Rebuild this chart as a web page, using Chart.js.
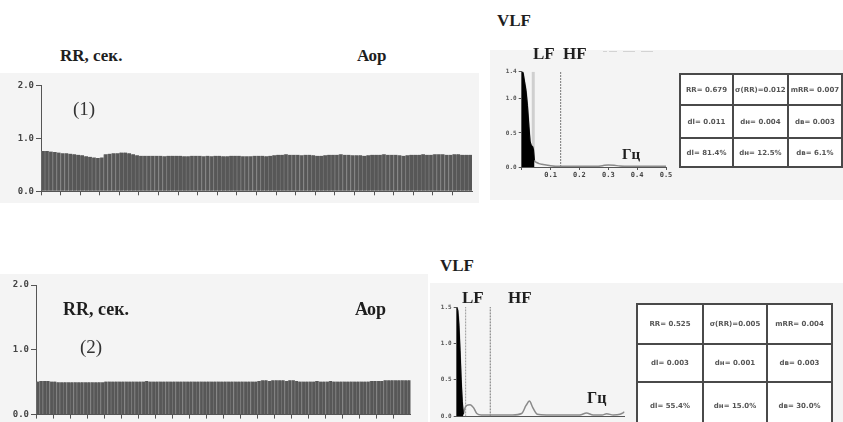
<!DOCTYPE html>
<html>
<head>
<meta charset="utf-8">
<script src="https://cdn.jsdelivr.net/npm/chart.js@4.4.1/dist/chart.umd.min.js"></script>
<style>
body { margin:0; width:843px; height:422px; overflow:hidden; background:#fff; position:relative; font-family:"Liberation Serif", serif; }
.panel { position:absolute; background:#f4f4f4; }
canvas { position:absolute; }
.t { position:absolute; font-weight:bold; font-size:17px; line-height:1; color:#1e1e1e; white-space:nowrap; }
.n { position:absolute; font-size:19px; line-height:1; color:#333; white-space:nowrap; }
.dash { position:absolute; font-size:8px; color:#aaa; white-space:pre; }
table { position:absolute; border-collapse:collapse; table-layout:fixed; background:#fff; }
td { border:2px solid #4a4a4a; text-align:center; font:bold 7px "DejaVu Sans", sans-serif; color:#555; padding:0; white-space:nowrap; overflow:hidden; }
</style>
</head>
<body>
<div class="panel" style="left:0;top:73px;width:479px;height:130px"></div>
<div class="panel" style="left:490px;top:50px;width:353px;height:150px"></div>
<div class="panel" style="left:0;top:274px;width:428px;height:148px"></div>
<div class="panel" style="left:430px;top:283px;width:413px;height:139px"></div>

<canvas id="rr1" width="480" height="133" style="left:0;top:70px"></canvas>
<canvas id="spec1" width="190" height="150" style="left:490px;top:50px"></canvas>
<canvas id="rr2" width="428" height="150" style="left:0;top:272px"></canvas>
<canvas id="spec2" width="206" height="139" style="left:430px;top:283px"></canvas>

<div class="t" style="left:60px;top:47px">RR, сек.</div>
<div class="t" style="left:357px;top:47px">Аор</div>
<div class="n" style="left:73px;top:99px">(1)</div>
<div class="t" style="left:497px;top:12px">VLF</div>
<div class="t" style="left:533px;top:45px">LF</div>
<div class="t" style="left:563px;top:45px">HF</div>
<div class="dash" style="left:603px;top:46px">– ––   –––   –––</div>
<div class="t" style="left:622px;top:147px;font-size:15px">Гц</div>

<div class="t" style="left:440px;top:257px">VLF</div>
<div class="t" style="left:462px;top:289px">LF</div>
<div class="t" style="left:508px;top:289px">HF</div>
<div class="t" style="left:63px;top:300px;font-size:18px">RR, сек.</div>
<div class="t" style="left:355px;top:300px;font-size:18px">Аор</div>
<div class="n" style="left:80px;top:337px">(2)</div>
<div class="t" style="left:587px;top:390px;font-size:16px">Гц</div>

<table id="tab1" style="left:679px;top:73px"></table>
<table id="tab2" style="left:636px;top:303px"></table>

<script>
const barLabels = Array.from({length: 110}, (_, i) => i + 1);

const rr1 = [0.76,0.76,0.75,0.74,0.73, 0.72,0.72,0.71,0.70,0.69, 0.68,0.66,0.65,0.64,0.63,
  0.64,0.70,0.71,0.72,0.72, 0.73,0.73,0.72,0.70,0.68, 0.67,0.67,0.67,0.67,0.67,
  0.67,0.66,0.67,0.67,0.67, 0.67,0.66,0.66,0.67,0.67, 0.67,0.66,0.67,0.66,0.67,
  0.67,0.66,0.66,0.67,0.67, 0.67,0.66,0.66,0.66,0.67, 0.67,0.67,0.66,0.67,0.68,
  0.69,0.69,0.70,0.69,0.69, 0.69,0.68,0.69,0.69,0.68, 0.67,0.67,0.68,0.69,0.69,
  0.69,0.70,0.69,0.69,0.68, 0.68,0.68,0.67,0.68,0.69, 0.69,0.69,0.70,0.69,0.69,
  0.69,0.68,0.67,0.68,0.69, 0.69,0.69,0.70,0.69,0.69, 0.70,0.70,0.70,0.69,0.69,
  0.70,0.70,0.69,0.69,0.69];

const rr2 = [0.51,0.52,0.52,0.52,0.51, 0.51,0.50,0.50,0.50,0.50, 0.50,0.50,0.50,0.50,0.50,
  0.50,0.50,0.50,0.50,0.50, 0.51,0.51,0.51,0.51,0.51, 0.51,0.51,0.51,0.51,0.51,
  0.51,0.51,0.52,0.51,0.51, 0.51,0.51,0.51,0.51,0.51, 0.51,0.51,0.51,0.51,0.51,
  0.51,0.51,0.51,0.51,0.51, 0.51,0.51,0.51,0.51,0.51, 0.51,0.51,0.51,0.51,0.51,
  0.51,0.51,0.51,0.51,0.51, 0.52,0.53,0.53,0.52,0.53, 0.53,0.53,0.53,0.52,0.53,
  0.53,0.52,0.51,0.51,0.51, 0.51,0.51,0.52,0.51,0.51, 0.51,0.52,0.51,0.51,0.51,
  0.51,0.51,0.51,0.51,0.51, 0.51,0.51,0.51,0.52,0.52, 0.52,0.52,0.53,0.53,0.53,
  0.53,0.53,0.53,0.53,0.53];

// spectrum (1): first vlf1Count points are the black VLF area
const spec1Freq = [0,0.005,0.01,0.015,0.02,0.025,0.029,0.033,0.038,0.041,0.044,0.05,0.06,0.07,0.085,0.1,0.13,0.18,0.22,0.26,0.28,0.30,0.32,0.34,0.37,0.42,0.46,0.5];
const spec1Power = [1.42,1.38,1.25,1.12,0.9,0.6,0.38,0.32,0.3,0.25,0.1,0.07,0.05,0.04,0.03,0.02,0.01,0.01,0.01,0.01,0.02,0.03,0.025,0.015,0.01,0.01,0.01,0.01];
const vlf1Count = 11;

const spec2Freq = [0,0.005,0.01,0.015,0.02,0.025,0.03,0.035,0.045,0.06,0.075,0.09,0.11,0.15,0.2,0.25,0.29,0.31,0.325,0.34,0.36,0.4,0.45,0.5,0.55,0.58,0.61,0.65,0.67,0.7,0.73,0.75];
const spec2Power = [1.5,1.45,1.25,0.9,0.5,0.2,0.03,0.1,0.15,0.16,0.12,0.04,0.02,0.02,0.02,0.02,0.04,0.15,0.21,0.12,0.03,0.02,0.02,0.02,0.02,0.045,0.02,0.02,0.035,0.02,0.03,0.06];
const vlf2Count = 7;

const bands1 = [0.04, 0.135];
const bands2 = [0.04, 0.15];

const table1 = [
  ['RR= 0.679', 'σ(RR)=0.012', 'mRR= 0.007'],
  ['dl= 0.011', 'dн= 0.004', 'dв= 0.003'],
  ['dl= 81.4%', 'dн= 12.5%', 'dв= 6.1%']
];
const table2 = [
  ['RR= 0.525', 'σ(RR)=0.005', 'mRR= 0.004'],
  ['dl= 0.003', 'dн= 0.001', 'dв= 0.003'],
  ['dl= 55.4%', 'dн= 15.0%', 'dв= 30.0%']
];

Chart.defaults.animation = false;
Chart.defaults.responsive = false;
Chart.defaults.devicePixelRatio = 1;
Chart.defaults.plugins.legend.display = false;
Chart.defaults.plugins.tooltip.enabled = false;

const axisColor = '#555';

function rrChart(id, values, yWidth, xHeight, pad) {
  var ctx = document.getElementById(id).getContext('2d');
  return new Chart(ctx, {
    type: 'bar',
    data: {
      labels: barLabels,
      datasets: [{
        data: values,
        backgroundColor: '#575757',
        borderColor: '#727272',
        borderWidth: {left: 1, right: 0, top: 0, bottom: 0},
        barPercentage: 1,
        categoryPercentage: 1
      }]
    },
    options: {
      layout: {padding: pad},
      scales: {
        x: {
          ticks: {display: false},
          grid: {
            drawOnChartArea: false,
            tickLength: 4,
            tickColor: c => c.index % 5 === 0 ? axisColor : 'transparent'
          },
          border: {color: axisColor},
          afterFit: s => { s.height = xHeight; }
        },
        y: {
          min: 0,
          max: 2,
          ticks: {
            stepSize: 1,
            color: '#444',
            padding: 2,
            font: {size: 9, weight: 'bold', family: 'DejaVu Sans Mono'},
            callback: v => v.toFixed(1)
          },
          grid: {drawOnChartArea: false, tickLength: 5, color: axisColor},
          border: {color: axisColor},
          afterFit: s => { s.width = yWidth; }
        }
      }
    }
  });
}

function points(xs, ys, n) {
  return xs.slice(0, n || xs.length).map((x, i) => ({x: x, y: ys[i]}));
}

function specChart(id, xs, ys, nFill, bands, bandStyles, xMax, yMax, yWidth, xHeight, pad, showX) {
  var ctx = document.getElementById(id).getContext('2d');
  var bandSets = bands.map((b, i) => ({
    data: [{x: b, y: 0}, {x: b, y: yMax}],
    borderColor: bandStyles[i].color,
    borderWidth: bandStyles[i].width,
    borderDash: bandStyles[i].dash,
    pointRadius: 0,
    fill: false
  }));
  return new Chart(ctx, {
    type: 'line',
    data: {
      datasets: [
        {
          data: points(xs, ys, nFill),
          borderColor: '#000',
          backgroundColor: '#000',
          borderWidth: 1,
          pointRadius: 0,
          fill: 'origin'
        },
        {
          data: points(xs, ys),
          borderColor: '#8a8a8a',
          borderWidth: 1.5,
          pointRadius: 0,
          cubicInterpolationMode: 'monotone',
          fill: false
        }
      ].concat(bandSets)
    },
    options: {
      layout: {padding: pad},
      scales: {
        x: {
          type: 'linear',
          min: 0,
          max: xMax,
          ticks: {
            display: showX,
            stepSize: 0.1,
            color: '#444',
            padding: 1,
            maxRotation: 0,
            font: {size: 7, weight: 'bold', family: 'DejaVu Sans Mono'},
            callback: v => v === 0 ? '' : v.toFixed(1)
          },
          grid: {drawOnChartArea: false, drawTicks: showX, tickLength: 3, color: axisColor},
          border: {color: axisColor},
          afterFit: s => { s.height = xHeight; }
        },
        y: {
          min: 0,
          max: yMax,
          ticks: {
            stepSize: 0.5,
            color: '#555',
            padding: 2,
            font: {size: 6, weight: 'bold', family: 'DejaVu Sans Mono'},
            callback: v => v.toFixed(1)
          },
          grid: {drawOnChartArea: false, tickLength: 3, color: axisColor},
          border: {color: axisColor},
          afterFit: s => { s.width = yWidth; }
        }
      }
    }
  });
}

function fillTable(id, rows, widths, heights) {
  var t = document.getElementById(id);
  rows.forEach((r, i) => {
    var tr = document.createElement('tr');
    tr.style.height = heights[i] + 'px';
    r.forEach((txt, j) => {
      var td = document.createElement('td');
      td.style.width = widths[j] + 'px';
      td.textContent = txt;
      tr.appendChild(td);
    });
    t.appendChild(tr);
  });
}

var myChart = rrChart('rr1', rr1, 41, 11.7, {top: 15.3, right: 8, left: 0, bottom: 0});
var myChart1 = rrChart('rr2', rr2, 36, 6.3, {top: 13, right: 17.3, left: 0, bottom: 0});
var myChart2 = specChart('spec1', spec1Freq, spec1Power, vlf1Count, bands1,
  [{color: '#cfcfcf', width: 3, dash: []}, {color: '#777', width: 1, dash: [2, 1]}],
  0.5, 1.4, 31.7, 33, {top: 21.7, right: 14, left: 0, bottom: 0}, true);
var myChart3 = specChart('spec2', spec2Freq, spec2Power, vlf2Count, bands2,
  [{color: '#999', width: 1, dash: [2, 1]}, {color: '#777', width: 1, dash: [2, 1]}],
  0.75, 1.5, 26.7, 2, {top: 24, right: 11.5, left: 0, bottom: 0}, false);

fillTable('tab1', table1, [56, 54, 54], [31, 33, 29]);
fillTable('tab2', table2, [64, 62, 63], [40, 38, 48]);
</script>
</body>
</html>
